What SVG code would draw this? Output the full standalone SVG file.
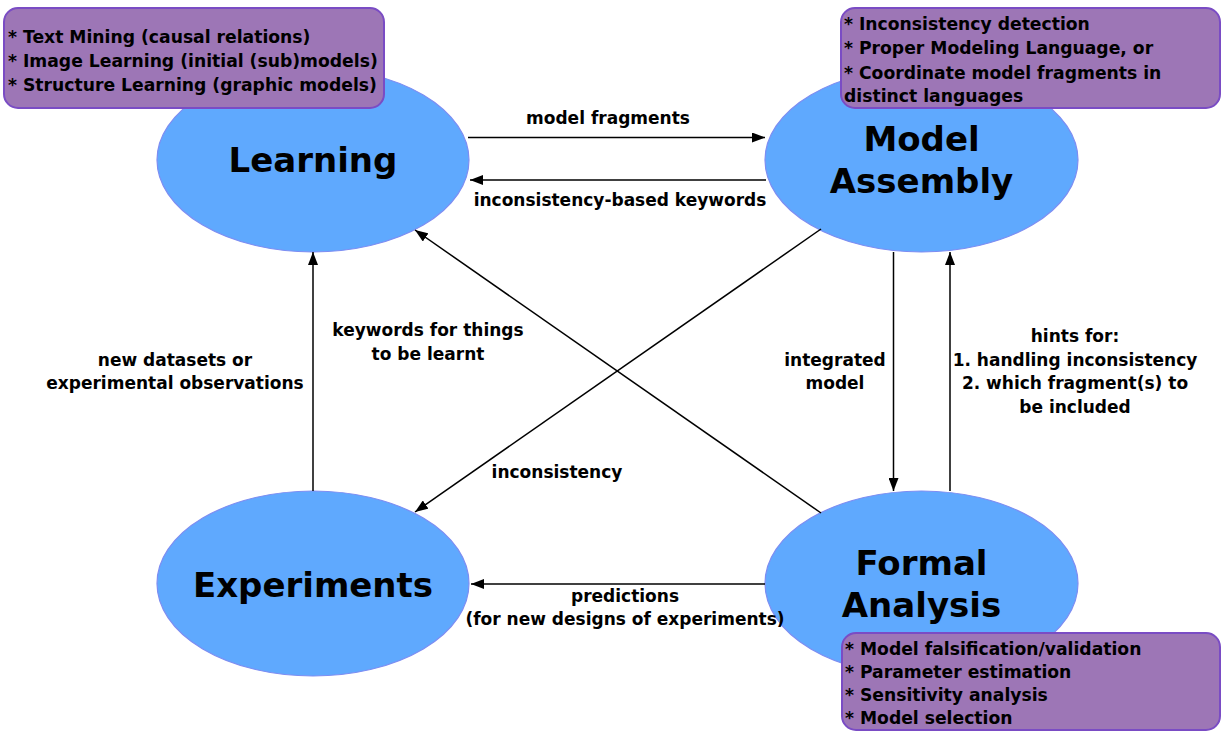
<svg xmlns="http://www.w3.org/2000/svg" width="1225" height="731" viewBox="0 0 1225 731">
  <style>
    .node { fill: #5fa9fe; stroke: #7d8df2; stroke-width: 1.2; }
    .title { font-family: "DejaVu Sans", "Liberation Sans", sans-serif; font-weight: bold; font-size: 34px; fill: #000; text-anchor: middle; }
    .note { fill: #9d76b6; stroke: #7a4cc4; stroke-width: 2; }
    .notetext { font-family: "DejaVu Sans", "Liberation Sans", sans-serif; font-weight: bold; font-size: 17.2px; fill: #000; }
    .edge { stroke: #000; stroke-width: 1.5; fill: none; marker-end: url(#arrow); }
    .label { font-family: "DejaVu Sans", "Liberation Sans", sans-serif; font-weight: bold; font-size: 17px; fill: #000; text-anchor: middle; }
  </style>
  <defs>
    <marker id="arrow" viewBox="0 0 13 10" refX="13" refY="5" markerWidth="13" markerHeight="10" markerUnits="userSpaceOnUse" orient="auto">
      <path d="M0,0 L13,5 L0,10 z" fill="#000"/>
    </marker>
  </defs>
  <rect width="1225" height="731" fill="#fff"/>

  <!-- main stages -->
  <g id="learning">
    <ellipse class="node" cx="313" cy="160" rx="156" ry="92"/>
    <text class="title" x="313" y="172">Learning</text>
  </g>
  <g id="model-assembly">
    <ellipse class="node" cx="921.5" cy="160" rx="156.5" ry="92"/>
    <text class="title" x="921.5" y="151">Model</text>
    <text class="title" x="921.5" y="193">Assembly</text>
  </g>
  <g id="experiments">
    <ellipse class="node" cx="313" cy="583.5" rx="156" ry="92.5"/>
    <text class="title" x="313" y="597">Experiments</text>
  </g>
  <g id="formal-analysis">
    <ellipse class="node" cx="921.5" cy="583.5" rx="156.5" ry="92.5"/>
    <text class="title" x="921.5" y="575">Formal</text>
    <text class="title" x="921.5" y="617">Analysis</text>
  </g>

  <!-- connectors between stages -->
  <g id="connectors">
    <line class="edge" x1="468" y1="137.5" x2="765" y2="137.5"/>
    <line class="edge" x1="766" y1="180" x2="470" y2="180"/>
    <line class="edge" x1="313" y1="491" x2="313" y2="252"/>
    <line class="edge" x1="821" y1="513" x2="415" y2="230"/>
    <line class="edge" x1="821" y1="229" x2="415" y2="512"/>
    <line class="edge" x1="893.5" y1="252" x2="893.5" y2="491"/>
    <line class="edge" x1="950" y1="491" x2="950" y2="252"/>
    <line class="edge" x1="765" y1="584" x2="471" y2="584"/>

    <text class="label" x="608" y="124">model fragments</text>
    <text class="label" x="620" y="206">inconsistency-based keywords</text>
    <text class="label" x="428" y="336">keywords for things</text>
    <text class="label" x="428" y="360">to be learnt</text>
    <text class="label" x="175" y="366">new datasets or</text>
    <text class="label" x="175" y="389">experimental observations</text>
    <text class="label" x="835" y="366">integrated</text>
    <text class="label" x="835" y="389">model</text>
    <text class="label" x="1075" y="342">hints for:</text>
    <text class="label" x="1075" y="366">1. handling inconsistency</text>
    <text class="label" x="1075" y="389">2. which fragment(s) to</text>
    <text class="label" x="1075" y="413">be included</text>
    <text class="label" x="557" y="478">inconsistency</text>
    <text class="label" x="625" y="602">predictions</text>
    <text class="label" x="625" y="625">(for new designs of experiments)</text>
  </g>

  <!-- annotation boxes -->
  <g id="learning-note">
    <rect class="note" x="4" y="8" width="380" height="100" rx="14"/>
    <text class="notetext" x="8" y="43">* Text Mining (causal relations)</text>
    <text class="notetext" x="8" y="67">* Image Learning (initial (sub)models)</text>
    <text class="notetext" x="8" y="91">* Structure Learning (graphic models)</text>
  </g>
  <g id="assembly-note">
    <rect class="note" x="841" y="8" width="379" height="100" rx="14"/>
    <text class="notetext" x="844" y="30">* Inconsistency detection</text>
    <text class="notetext" x="844" y="54">* Proper Modeling Language, or</text>
    <text class="notetext" x="844" y="79">* Coordinate model fragments in</text>
    <text class="notetext" x="844" y="102">distinct languages</text>
  </g>
  <g id="analysis-note">
    <rect class="note" x="842" y="633" width="378" height="97" rx="14"/>
    <text class="notetext" x="845" y="655">* Model falsification/validation</text>
    <text class="notetext" x="845" y="678">* Parameter estimation</text>
    <text class="notetext" x="845" y="701">* Sensitivity analysis</text>
    <text class="notetext" x="845" y="724">* Model selection</text>
  </g>
</svg>
